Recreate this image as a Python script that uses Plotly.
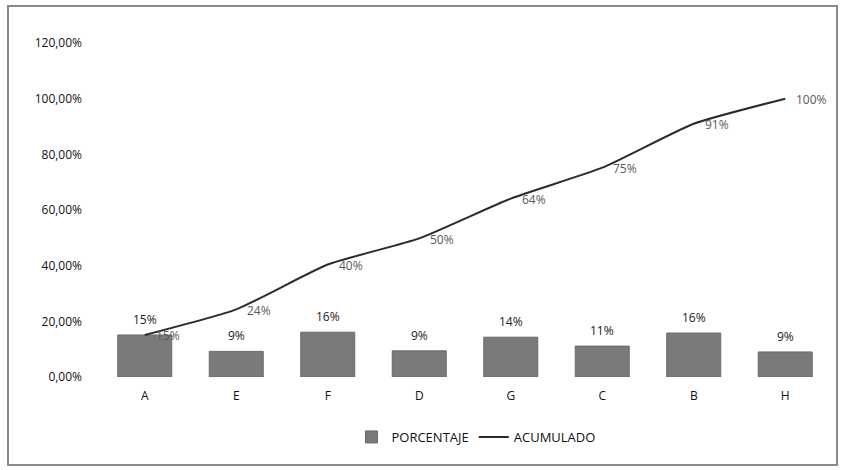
import plotly.graph_objects as go

# === Data ===
categorias = ["A", "E", "F", "D", "G", "C", "B", "H"]
porcentaje = [0.151, 0.092, 0.161, 0.094, 0.143, 0.111, 0.158, 0.090]
acumulado = [0.151, 0.243, 0.404, 0.498, 0.641, 0.752, 0.910, 1.000]

W, H = 841, 470
L, R, T, B = 99, 10, 43, 93
pw, ph = W - L - R, H - T - B

def px(x):
    return (x - L) / pw

def py(y):
    return (H - B - y) / ph

fig = go.Figure()

# === Bars ===
fig.add_trace(go.Bar(
    x=categorias, y=porcentaje, name="PORCENTAJE",
    marker=dict(color="#7a7a7a", line=dict(color="#6a6a6a", width=1)),
    width=0.59,
))

# bar value labels, a bit higher than plotly's "outside"
for c, v in zip(categorias, porcentaje):
    fig.add_annotation(x=c, y=v, text=f"{v*100:.0f}%", showarrow=False,
                       yanchor="bottom", yshift=5,
                       font=dict(color="#1a1a1a", size=12))

# === Cumulative line ===
fig.add_trace(go.Scatter(
    x=categorias, y=acumulado, name="ACUMULADO",
    mode="lines",
    line=dict(color="#2b2b2b", width=2, shape="spline", smoothing=0.5),
    cliponaxis=False,
))

# line labels, to the right of each point
for c, v in zip(categorias, acumulado):
    fig.add_annotation(x=c, y=v, text=f"{v*100:.0f}%", showarrow=False,
                       xanchor="left", yanchor="middle", xshift=9, yshift=-1,
                       font=dict(color="#5a5a5a", size=12))

# chart frame
fig.add_shape(type="rect", xref="paper", yref="paper",
              x0=px(8), x1=px(837), y0=py(465), y1=py(6),
              line=dict(color="#8a8a8a", width=2), fillcolor="rgba(0,0,0,0)")

fig.update_layout(
    width=W, height=H,
    margin=dict(l=L, r=R, t=T, b=B, autoexpand=False),
    paper_bgcolor="white", plot_bgcolor="white",
    separators=", ",
    font=dict(family="Open Sans", size=12, color="#111111"),
    showlegend=True,
    legend=dict(orientation="h", x=0.515, xanchor="center",
                yref="container", y=1 - 437 / H, yanchor="middle",
                font=dict(size=13), itemwidth=30),
    xaxis=dict(showgrid=False, showline=False, ticks="", zeroline=False,
               ticklabelstandoff=10, automargin=False),
    yaxis=dict(range=[0, 1.2], dtick=0.2, tickformat=".2%", showgrid=False,
               showline=False, zeroline=False, ticks="", ticklabelstandoff=16,
               automargin=False),
)

# drop the browser's default page margin so the figure sits at 0,0
fig.write_html("out.html", config={"displayModeBar": False},
               post_script="document.body.style.margin='0';")
